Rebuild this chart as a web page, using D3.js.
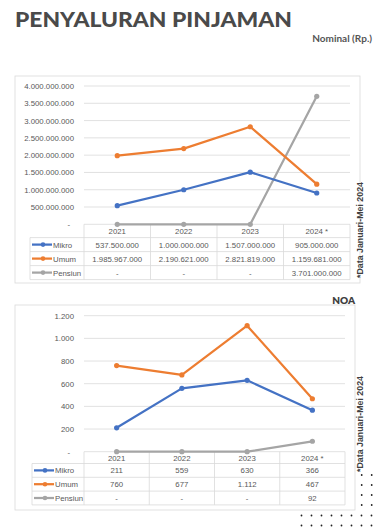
<!DOCTYPE html>
<html>
<head>
<meta charset="utf-8">
<script src="https://cdn.jsdelivr.net/npm/d3@7"></script>
<style>
  html, body { margin: 0; padding: 0; background: #ffffff; }
  svg { display: block; }
</style>
</head>
<body>
<script>

// data
var years = ["2021", "2022", "2023", "2024 *"];
var seriesNames = ["Mikro", "Umum", "Pensiun"];
var seriesColors = ["#4472C4", "#ED7D31", "#A5A5A5"];

// nominal (Rp.)
var mikroNominal = [537500000, 1000000000, 1507000000, 905000000];
var umumNominal = [1985967000, 2190621000, 2821819000, 1159681000];
var pensiunNominal = [0, 0, 0, 3701000000];
var nominalTicks = [0, 500000000, 1000000000, 1500000000, 2000000000, 2500000000, 3000000000, 3500000000, 4000000000];

// NOA
var mikroNoa = [211, 559, 630, 366];
var umumNoa = [760, 677, 1112, 467];
var pensiunNoa = [0, 0, 0, 92];
var noaTicks = [0, 200, 400, 600, 800, 1000, 1200];

var w = 375;
var h = 531;

// indonesian number format: dots between thousands
var idLocale = d3.formatLocale({decimal: ",", thousands: ".", grouping: [3], currency: ["Rp", ""]});
var fmt = idLocale.format(",.0f");
var fmtCell = function(v){ return v === 0 ? "-" : fmt(v); };

var textFont = "'Liberation Sans', Arial, sans-serif";
var textSize = 7.8;
var textColor = "#595959";
var lineColor = "#d9d9d9";

var svg = d3.select("body").append("svg")
      .attr("width", w)
      .attr("height", h);

// title
svg.append("text")
      .attr("x", 15).attr("y", 27)
      .attr("font-family", "Lato, Inter, 'Open Sans', sans-serif")
      .attr("font-weight", 900)
      .attr("font-size", 21)
      .attr("textLength", 277)
      .attr("lengthAdjust", "spacingAndGlyphs")
      .attr("fill", "#4a4a4a")
      .text("PENYALURAN PINJAMAN");

svg.append("text")
      .attr("x", 372).attr("y", 42)
      .attr("text-anchor", "end")
      .attr("font-family", "Lato, 'Open Sans', sans-serif")
      .attr("font-weight", 700)
      .attr("font-size", 10)
      .attr("fill", "#555555")
      .text("Nominal (Rp.)");

// draws one line chart with its data table under it
var drawChart = function(cfg){

  var g = svg.append("g");

  // outer frame of the chart
  g.append("rect")
        .attr("x", cfg.box[0]).attr("y", cfg.box[1])
        .attr("width", cfg.box[2] - cfg.box[0])
        .attr("height", cfg.box[3] - cfg.box[1])
        .attr("fill", "none")
        .attr("stroke", lineColor)
        .attr("stroke-width", 0.8);

  var x = d3.scaleBand().domain(years).range([cfg.left, cfg.right]);
  var y = d3.scaleLinear().domain([0, cfg.ticks[cfg.ticks.length - 1]]).range([cfg.zeroY, cfg.topY]);

  // gridlines
  g.selectAll(".grid").data(cfg.ticks.slice(1)).enter().append("line")
        .attr("x1", cfg.left).attr("x2", cfg.right)
        .attr("y1", function(d){ return y(d); })
        .attr("y2", function(d){ return y(d); })
        .attr("stroke", lineColor)
        .attr("stroke-width", 0.8);

  // y labels
  g.selectAll(".ylab").data(cfg.ticks).enter().append("text")
        .attr("x", function(d){ return d === 0 ? 70 : 74; })
        .attr("y", function(d){ return y(d) + 3; })
        .attr("text-anchor", "end")
        .attr("font-family", textFont)
        .attr("font-size", textSize)
        .attr("fill", textColor)
        .text(function(d){ return d === 0 ? "-" : fmt(d); });

  // table under the plot
  var rowH = cfg.rowH;
  var tTop = cfg.zeroY;
  var headBottom = tTop + cfg.headH;
  var tBottom = headBottom + rowH * 3;

  // horizontal rules
  g.append("line").attr("x1", cfg.left).attr("x2", cfg.right)
        .attr("y1", tTop).attr("y2", tTop).attr("stroke", lineColor).attr("stroke-width", 0.8);
  [0, 1, 2, 3].forEach(function(i){
    g.append("line").attr("x1", cfg.legendX).attr("x2", cfg.right)
          .attr("y1", headBottom + i * rowH).attr("y2", headBottom + i * rowH)
          .attr("stroke", lineColor).attr("stroke-width", 0.8);
  });
  // vertical rules
  g.append("line").attr("x1", cfg.legendX).attr("x2", cfg.legendX)
        .attr("y1", headBottom).attr("y2", tBottom).attr("stroke", lineColor).attr("stroke-width", 0.8);
  years.forEach(function(yr){
    g.append("line").attr("x1", x(yr)).attr("x2", x(yr))
          .attr("y1", tTop).attr("y2", tBottom).attr("stroke", lineColor).attr("stroke-width", 0.8);
  });
  g.append("line").attr("x1", cfg.right).attr("x2", cfg.right)
        .attr("y1", tTop).attr("y2", tBottom).attr("stroke", lineColor).attr("stroke-width", 0.8);

  // year header
  g.selectAll(".yr").data(years).enter().append("text")
        .attr("x", function(d){ return x(d) + x.bandwidth() / 2; })
        .attr("y", tTop + cfg.headH / 2 + 3)
        .attr("text-anchor", "middle")
        .attr("font-family", textFont)
        .attr("font-size", textSize)
        .attr("fill", textColor)
        .text(function(d){ return d; });

  var line = d3.line()
        .x(function(d, i){ return x(years[i]) + x.bandwidth() / 2; })
        .y(function(d){ return y(d); });

  // draw pensiun first so the others sit on top
  [2, 0, 1].forEach(function(s){
    var vals = cfg.series[s];
    g.append("path")
          .attr("d", line(vals))
          .attr("fill", "none")
          .attr("stroke", seriesColors[s])
          .attr("stroke-width", 2.25)
          .attr("stroke-linejoin", "round");
    g.selectAll(".pt" + s).data(vals).enter().append("circle")
          .attr("cx", function(d, i){ return x(years[i]) + x.bandwidth() / 2; })
          .attr("cy", function(d){ return y(d); })
          .attr("r", 2.6)
          .attr("fill", seriesColors[s]);
  });

  // table rows: legend key + values
  cfg.series.forEach(function(vals, s){
    var cy = headBottom + rowH * s + rowH / 2;
    g.append("line")
          .attr("x1", cfg.legendX + 2).attr("x2", cfg.legendX + 22)
          .attr("y1", cy).attr("y2", cy)
          .attr("stroke", seriesColors[s]).attr("stroke-width", 2.25);
    g.append("circle")
          .attr("cx", cfg.legendX + 13).attr("cy", cy).attr("r", 2.3)
          .attr("fill", seriesColors[s]);
    g.append("text")
          .attr("x", cfg.legendX + 23).attr("y", cy + 3)
          .attr("font-family", textFont)
          .attr("font-size", textSize)
          .attr("fill", textColor)
          .text(seriesNames[s]);
    g.selectAll(".cell" + s).data(vals).enter().append("text")
          .attr("x", function(d, i){ return x(years[i]) + x.bandwidth() / 2; })
          .attr("y", cy + 3)
          .attr("text-anchor", "middle")
          .attr("font-family", textFont)
          .attr("font-size", textSize)
          .attr("fill", textColor)
          .text(function(d){ return fmtCell(d); });
  });

  // side note, rotated
  g.append("text")
        .attr("transform", "translate(" + 363 + "," + cfg.noteY + ") rotate(-90)")
        .attr("text-anchor", "middle")
        .attr("font-family", "'Liberation Sans', Arial, sans-serif")
        .attr("font-weight", 700)
        .attr("font-size", 8.8)
        .attr("fill", "#404040")
        .text("*Data Januari-Mei 2024");
}

drawChart({
  box: [15, 76, 360, 283],
  left: 84, right: 350,
  zeroY: 224.3, topY: 86,
  ticks: nominalTicks,
  headH: 13.3, rowH: 14,
  legendX: 30,
  series: [mikroNominal, umumNominal, pensiunNominal],
  noteY: 230
});

drawChart({
  box: [15, 305, 355, 510],
  left: 84, right: 345,
  zeroY: 451.7, topY: 315.7,
  ticks: noaTicks,
  headH: 11.8, rowH: 13.8,
  legendX: 32,
  series: [mikroNoa, umumNoa, pensiunNoa],
  noteY: 424
});

// NOA label on the second frame
svg.append("text")
      .attr("x", 355).attr("y", 304)
      .attr("text-anchor", "end")
      .attr("font-family", "Lato, 'Open Sans', sans-serif")
      .attr("font-weight", 800)
      .attr("font-size", 10)
      .attr("fill", "#404040")
      .text("NOA");

// dotted decoration in the bottom right corner
var dotRows = [475, 485, 495, 505];
var dotCols = [361.7, 371.7];
var fullRows = [515.5, 525.5];
var fullCols = d3.range(8).map(function(i){ return 301.5 + i * 10; });

dotRows.forEach(function(yy){
  dotCols.forEach(function(xx){
    svg.append("circle").attr("cx", xx).attr("cy", yy).attr("r", 0.9).attr("fill", "#222");
  });
});
fullRows.forEach(function(yy){
  fullCols.forEach(function(xx){
    svg.append("circle").attr("cx", xx).attr("cy", yy).attr("r", 0.9).attr("fill", "#222");
  });
});

</script>
</body>
</html>
